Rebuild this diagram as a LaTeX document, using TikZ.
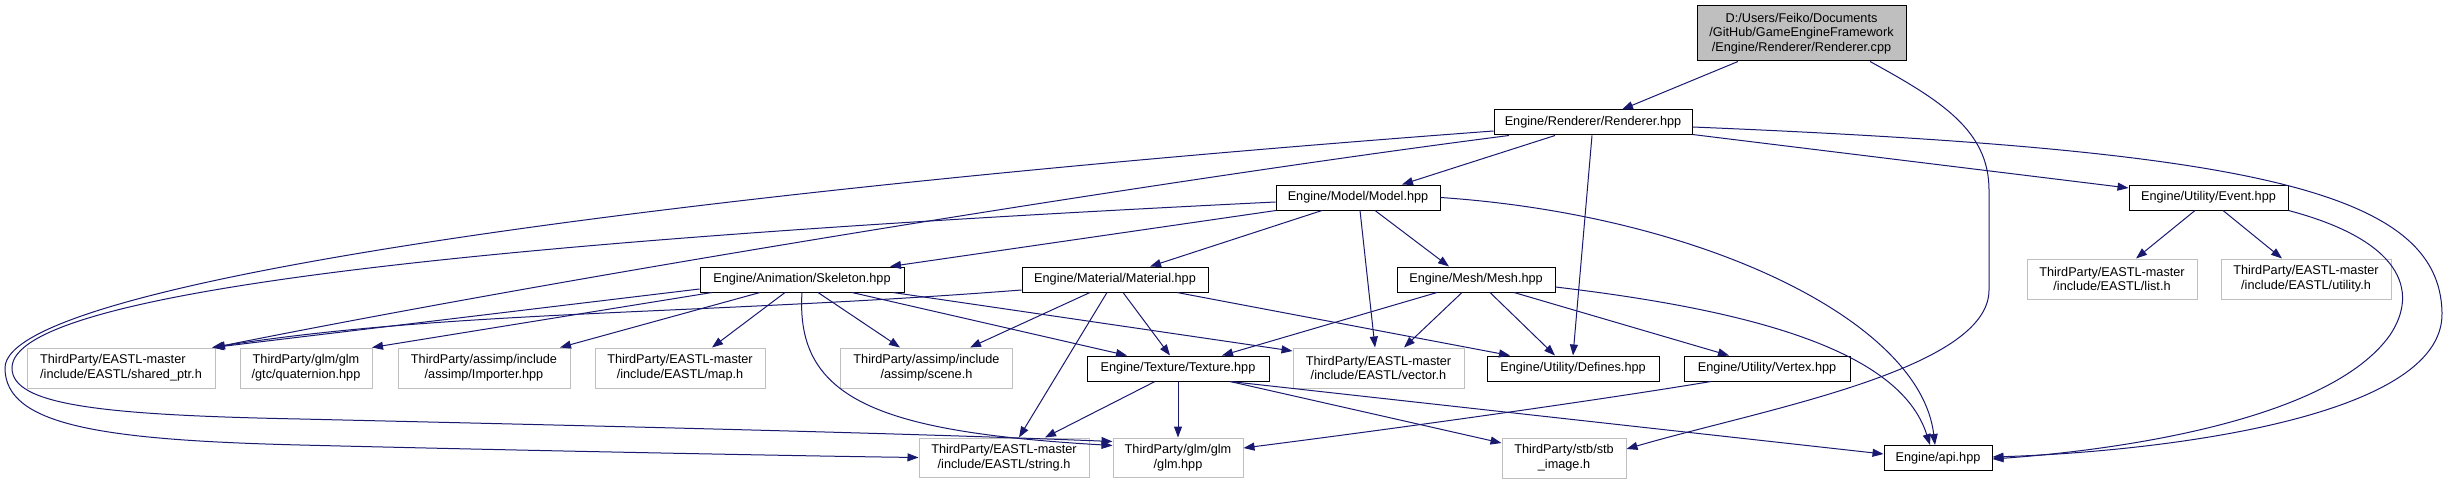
\documentclass[tikz,border=0pt]{standalone}
\usepackage{fontspec}
\setmainfont{Liberation Sans}
\usetikzlibrary{arrows.meta,calc}
\definecolor{edgeblue}{HTML}{191970}
\definecolor{extgray}{HTML}{BFBFBF}
\definecolor{rootfill}{HTML}{BFBFBF}
\tikzset{
  lbl/.style={inner sep=0pt, align=center, font=\fontsize{12.7}{14.6}\selectfont},
  eng/.style={lbl, draw=black, line width=1pt, fill=white, minimum height=25pt},
  ext/.style={lbl, draw=extgray, line width=1pt, fill=white, minimum height=40pt},
  rootbox/.style={lbl, draw=black, line width=1pt, fill=rootfill, minimum height=55pt},
  dep/.style={draw=edgeblue, line width=1pt, -{Triangle[length=11pt,width=8pt]}}
}
\begin{document}
\begin{tikzpicture}[x=1pt,y=-1pt]
\useasboundingbox[fill=white] (0,0) rectangle (2449,484);
% nodes
\node[rootbox, minimum width=209pt] (root) at (1801.5,33.5) {D:/Users/Feiko/Documents\\/GitHub/GameEngineFramework\\/Engine/Renderer/Renderer.cpp};
\node[eng, minimum width=198pt] (renderer) at (1593,122.5) {Engine/Renderer/Renderer.hpp};
\node[eng, minimum width=164pt] (model) at (1358,197.5) {Engine/Model/Model.hpp};
\node[eng, minimum width=159pt] (event) at (2208.5,197.5) {Engine/Utility/Event.hpp};
\node[eng, minimum width=204pt] (skeleton) at (802,279.5) {Engine/Animation/Skeleton.hpp};
\node[eng, minimum width=186pt] (material) at (1115,279.5) {Engine/Material/Material.hpp};
\node[eng, minimum width=158pt] (mesh) at (1476,279.5) {Engine/Mesh/Mesh.hpp};
\node[ext, minimum width=170pt] (list) at (2112,279) {ThirdParty/EASTL-master\\/include/EASTL/list.h};
\node[ext, minimum width=170pt] (utility) at (2306,279) {ThirdParty/EASTL-master\\/include/EASTL/utility.h};
\node[ext, minimum width=188pt, align=left] (shared) at (121,368) {ThirdParty/EASTL-master\\/include/EASTL/shared\_ptr.h};
\node[ext, minimum width=132pt] (quat) at (306,368) {ThirdParty/glm/glm\\/gtc/quaternion.hpp};
\node[ext, minimum width=172pt] (importer) at (484,368) {ThirdParty/assimp/include\\/assimp/Importer.hpp};
\node[ext, minimum width=170pt] (map) at (680,368) {ThirdParty/EASTL-master\\/include/EASTL/map.h};
\node[ext, minimum width=172pt] (scene) at (926.5,368) {ThirdParty/assimp/include\\/assimp/scene.h};
\node[eng, minimum width=182pt] (texture) at (1178,368.5) {Engine/Texture/Texture.hpp};
\node[ext, minimum width=171pt] (vector) at (1378.5,368) {ThirdParty/EASTL-master\\/include/EASTL/vector.h};
\node[eng, minimum width=172pt] (defines) at (1573,368.5) {Engine/Utility/Defines.hpp};
\node[eng, minimum width=166pt] (vertex) at (1767,368.5) {Engine/Utility/Vertex.hpp};
\node[ext, minimum width=170pt, minimum height=39pt] (string) at (1004,457.5) {ThirdParty/EASTL-master\\/include/EASTL/string.h};
\node[ext, minimum width=130pt, minimum height=39pt] (glm) at (1178,457.5) {ThirdParty/glm/glm\\/glm.hpp};
\node[ext, minimum width=124pt] (stb) at (1564,458) {ThirdParty/stb/stb\\\_image.h};
\node[eng, minimum width=108pt] (api) at (1938,458) {Engine/api.hpp};
% edges from root
\draw[dep] ($(root.south)+(-63.5,0)$) -- ($(renderer.north)+(29,0)$);
\draw[dep] ($(root.south)+(68.5,0)$) .. controls (1940,100) and (1989,130) .. (1989,190) -- (1989,290) .. controls (1989,370) and (1760,410) .. ($(stb.east)+(0,-9)$);
% edges from renderer
\draw[dep] ($(renderer.south)+(-38,0)$) -- ($(model.north)+(44,0)$);
\draw[dep] ($(renderer.south)+(-1,0)$) -- ($(defines.north)+(0,0)$);
\draw[dep] ($(renderer.south east)+(0,-1)$) -- ($(event.west)+(0,-9.5)$);
\draw[dep] ($(renderer.east)+(0,4.5)$) .. controls (2250,150) and (2440,190) .. (2442,313) .. controls (2444,420) and (2150,452) .. ($(api.east)+(0,-1)$);
\draw[dep] ($(renderer.south)+(-84,0)$) .. controls (1200,175) and (600,270) .. ($(shared.north)+(93,0)$);
\draw[dep] ($(renderer.west)+(0,8.5)$) .. controls (700,190) and (5,280) .. (5,368) .. controls (5,425) and (100,440) .. (300,445) .. controls (500,450) and (800,456) .. ($(string.west)+(0,0)$);
% edges from model
\draw[dep] ($(model.south)+(-82,0)$) -- ($(skeleton.north)+(88,0)$);
\draw[dep] ($(model.south)+(-36,0)$) -- ($(material.north)+(35,0)$);
\draw[dep] ($(model.south)+(17,0)$) -- ($(mesh.north)+(-27,0)$);
\draw[dep] ($(model.south)+(2,0)$) -- ($(vector.north)+(-3.5,0)$);
\draw[dep] ($(model.east)+(0,0)$) .. controls (1700,215) and (1920,320) .. ($(api.north)+(-3,0)$);
\draw[dep] ($(model.west)+(0,4.5)$) .. controls (500,240) and (12,290) .. (12,368) .. controls (12,405) and (100,415) .. (300,419) .. controls (600,426) and (900,433) .. ($(glm.west)+(0,-16)$);
% edges from skeleton
\draw[dep] ($(skeleton.west)+(0,9.5)$) -- ($(shared.north)+(92,0)$);
\draw[dep] ($(skeleton.south)+(-90,0)$) -- ($(quat.north)+(66,0)$);
\draw[dep] ($(skeleton.south)+(-42,0)$) -- ($(importer.north)+(76,0)$);
\draw[dep] ($(skeleton.south)+(-17,0)$) -- ($(map.north)+(32,0)$);
\draw[dep] ($(skeleton.south)+(0,0)$) .. controls (795,400) and (880,432) .. ($(glm.west)+(0,-12)$);
\draw[dep] ($(skeleton.south)+(16,0)$) -- ($(scene.north)+(-26.5,0)$);
\draw[dep] ($(skeleton.south)+(50,0)$) -- ($(texture.north)+(-51,0)$);
\draw[dep] ($(skeleton.south)+(91,0)$) -- ($(vector.west)+(0,-17)$);
% edges from material
\draw[dep] ($(material.west)+(0,10.5)$) .. controls (700,315) and (450,310) .. ($(shared.north)+(91,0)$);
\draw[dep] ($(material.south)+(-25,0)$) -- ($(scene.north)+(43.5,0)$);
\draw[dep] ($(material.south)+(-8,0)$) -- ($(string.north)+(15,0)$);
\draw[dep] ($(material.south)+(8,0)$) -- ($(texture.north)+(-8,0)$);
\draw[dep] ($(material.south)+(62,0)$) -- ($(defines.north)+(-63,0)$);
% edges from mesh
\draw[dep] ($(mesh.south)+(-39,0)$) -- ($(texture.north)+(44,0)$);
\draw[dep] ($(mesh.south)+(-14,0)$) -- ($(vector.north)+(25.5,0)$);
\draw[dep] ($(mesh.south)+(14,0)$) -- ($(defines.north)+(-18,0)$);
\draw[dep] ($(mesh.south)+(38,0)$) -- ($(vertex.north)+(-38,0)$);
\draw[dep] ($(mesh.east)+(0,7.5)$) .. controls (1750,310) and (1900,350) .. ($(api.north)+(-8,0)$);
% edges from texture
\draw[dep] ($(texture.south)+(-23,0)$) -- ($(string.north)+(41,0)$);
\draw[dep] (texture.south) -- (glm.north);
\draw[dep] ($(texture.south)+(52,0)$) -- ($(stb.west)+(0,-15)$);
\draw[dep] ($(texture.south)+(52,0)$) -- ($(api.west)+(0,-4)$);
% vertex
\draw[dep] ($(vertex.south)+(-56,0)$) .. controls (1600,400) and (1400,428) .. ($(glm.east)+(0,-9.5)$);
% event
\draw[dep] ($(event.south)+(-13.5,0)$) -- ($(list.north)+(24,0)$);
\draw[dep] ($(event.south)+(14.5,0)$) -- ($(utility.north)+(-24,0)$);
\draw[dep] (event.south east) .. controls (2400,240) and (2420,290) .. (2390,335) .. controls (2330,420) and (2120,450) .. ($(api.east)+(0,1)$);
\end{tikzpicture}
\end{document}
